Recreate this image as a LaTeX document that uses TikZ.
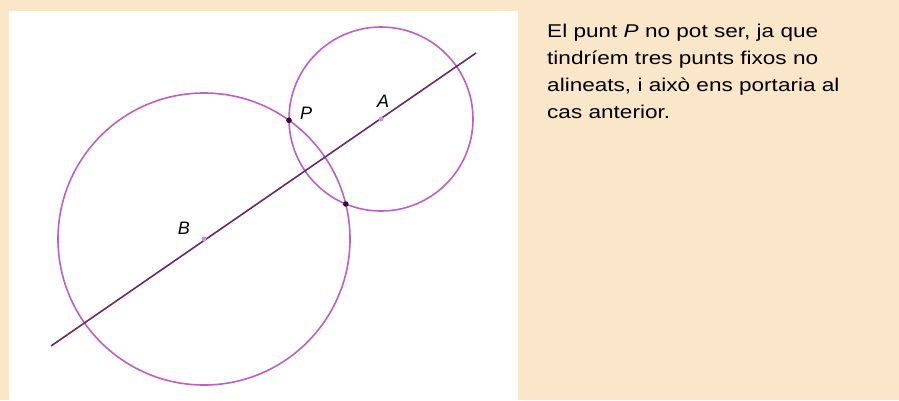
\documentclass[tikz,border=0pt]{standalone}
\usepackage{fontspec}
\setmainfont{Liberation Sans}
\newfontfamily\widesans[FakeStretch=1.22]{Liberation Sans}
\usetikzlibrary{intersections}
\definecolor{PanelPeach}{RGB}{250,230,200}
\definecolor{CircleViolet}{RGB}{190,95,200}
\definecolor{LineViolet}{RGB}{105,40,105}
\definecolor{CentreDot}{RGB}{200,150,215}
\definecolor{CrossDot}{RGB}{55,10,55}

\begin{document}
\begin{tikzpicture}[x=1pt, y=-1pt,
  every node/.style={font=\widesans\fontsize{18.5}{27}\selectfont},
  circ/.style={draw=CircleViolet, line width=1.6pt},
  ptlabel/.style={font=\fontsize{18}{20}\selectfont\itshape, inner sep=0pt}]
\fill[PanelPeach] (0,0) rectangle (899,400);
\fill[white] (9,11) rectangle (518,400);
\useasboundingbox (0,0) rectangle (899,400);
\coordinate (A) at (381,119);
\coordinate (B) at (204,239);
\coordinate (lineL) at (51,346);
\coordinate (lineR) at (476,53);
\draw[circ, name path=circA] (A) circle[radius=92];
\draw[circ, name path=circB] (B) circle[radius=146];
\draw[LineViolet, line width=1.6pt] (lineL) -- (lineR);
\path[name intersections={of=circA and circB, by={P,Q}}];
\fill[CentreDot] (A) circle[radius=2.5];
\fill[CentreDot] (B) circle[radius=2.5];
\fill[CrossDot] (P) circle[radius=2.8];
\fill[CrossDot] (Q) circle[radius=2.8];
\node[ptlabel] (lblP) at (306,113) {P};
\node[ptlabel] (lblA) at (383,101) {A};
\node[ptlabel] (lblB) at (184,228) {B};
\node[anchor=north west, align=left, inner sep=0pt] (txt) at (547,24)
  {El punt \textit{P} no pot ser, ja que\\
   tindríem tres punts fixos no\\
   alineats, i això ens portaria al\\
   cas anterior.};
\end{tikzpicture}
\end{document}
